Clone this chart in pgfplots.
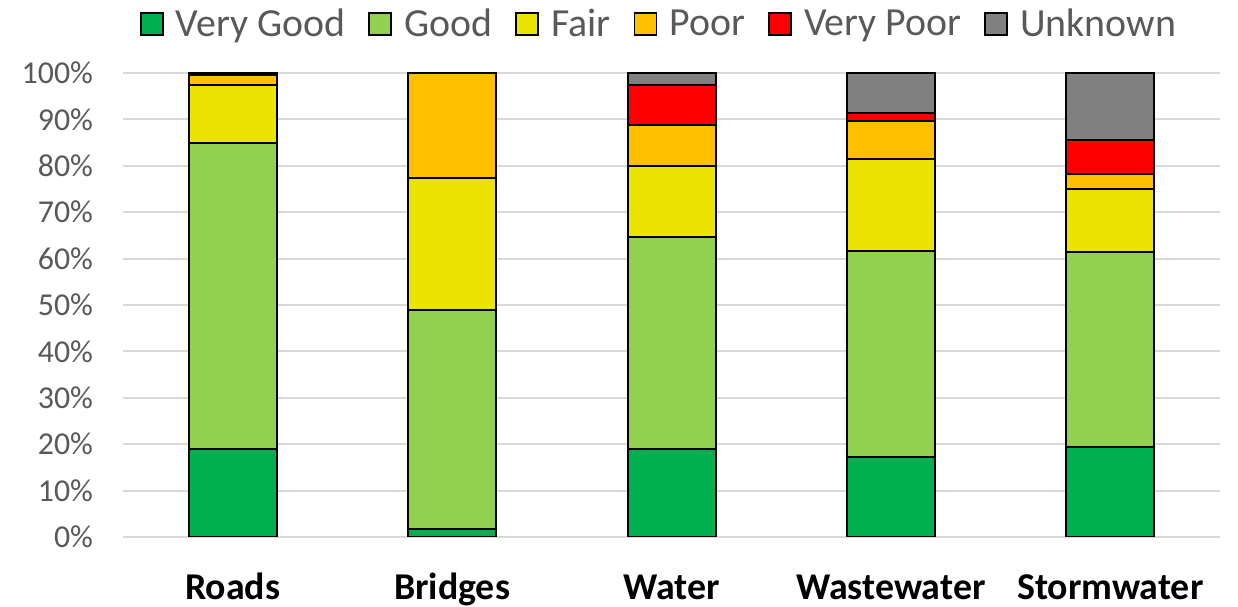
\documentclass[border=0pt]{standalone}
\usepackage{fontspec}
\setmainfont{Carlito}
\usepackage{pgfplots}
\pgfplotsset{compat=1.18}
\definecolor{cVG}{RGB}{0,176,80}
\definecolor{cG}{RGB}{146,208,80}
\definecolor{cF}{RGB}{234,228,0}
\definecolor{cP}{RGB}{255,192,0}
\definecolor{cVP}{RGB}{255,0,0}
\definecolor{cU}{RGB}{128,128,128}
\definecolor{txt}{RGB}{89,89,89}
\definecolor{grd}{RGB}{217,217,217}
\begin{document}
\begin{tikzpicture}
\useasboundingbox (-61.5bp,-35bp) rectangle (557.5bp,268.5bp);
\begin{axis}[
  at={(0,0)}, anchor=south west,
  scale only axis, width=548.5bp, height=232bp,
  ybar stacked, bar width=44bp,
  xmin=-0.5, xmax=4.5, ymin=0, ymax=100,
  xtick={0,1,2,3,4},
  xticklabels={Roads,Bridges,Water,Wastewater,Stormwater},
  ytick={0,10,...,100},
  yticklabel={\pgfmathprintnumber{\tick}\%},
  /pgf/number format/assume math mode=true,
  axis line style={draw=none},
  major tick length=0pt,
  ymajorgrids, grid style={grd, line width=1bp},
  yticklabel shift=11.5bp,
  yticklabel style={font=\fontsize{16}{19}\selectfont, text=txt, anchor=east},
  xticklabel style={font=\fontsize{19}{22}\selectfont\bfseries, text=black, anchor=base, yshift=-31bp},
  every axis plot/.append style={draw=black, line width=1bp},
  legend columns=6,
  legend style={at={(0.4895,1.105)}, anchor=center, draw=none, fill=none,
    font=\fontsize{20}{23}\selectfont, text=txt,
    /tikz/every even column/.append style={column sep=9.5bp}},
  legend image code/.code={\draw[#1, line width=0.9bp] (0bp,-5.5bp) rectangle (11bp,5.5bp); \path (15bp,0bp);},
]
\addplot[fill=cVG] coordinates {(0,19.0) (1,1.7) (2,19.0) (3,17.2) (4,19.4)};
\addplot[fill=cG] coordinates {(0,66.0) (1,47.2) (2,45.6) (3,44.5) (4,42.0)};
\addplot[fill=cF] coordinates {(0,12.4) (1,28.5) (2,15.4) (3,19.8) (4,13.5)};
\addplot[fill=cP] coordinates {(0,2.2) (1,22.6) (2,8.9) (3,8.1) (4,3.3)};
\addplot[fill=cVP] coordinates {(0,0.4) (1,0) (2,8.6) (3,1.8) (4,7.4)};
\addplot[fill=cU] coordinates {(0,0) (1,0) (2,2.5) (3,8.6) (4,14.4)};
\legend{Very Good,Good,Fair,Poor,Very Poor,Unknown}
\end{axis}
\end{tikzpicture}
\end{document}
